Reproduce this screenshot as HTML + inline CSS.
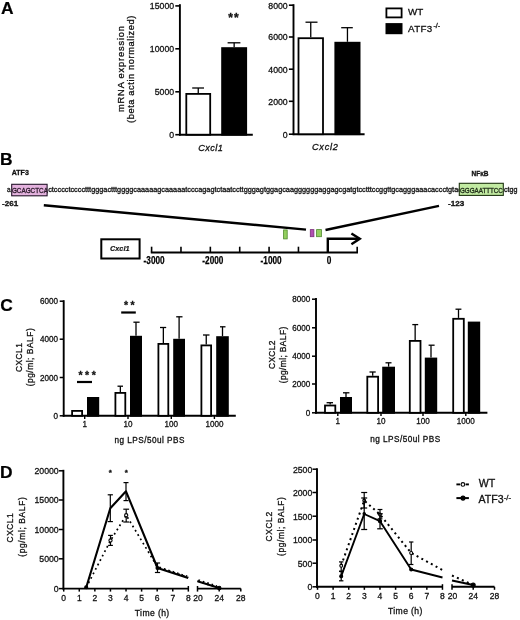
<!DOCTYPE html>
<html lang="en">
<head>
<meta charset="utf-8">
<title>Figure</title>
<style>
html,body{margin:0;padding:0;background:#fff;}
body{width:520px;height:620px;overflow:hidden;}
svg{display:block;font-family:'Liberation Sans', Arial, sans-serif;}
</style>
</head>
<body>
<svg width="520" height="620" viewBox="0 0 520 620">
<rect x="0" y="0" width="520" height="620" fill="#fff"/>
<text x="1.00" y="14.10" font-size="17.4" text-anchor="start" font-weight="bold" font-style="normal" fill="#000" stroke="#000" stroke-width="0.2" >A</text>
<line x1="179.90" y1="4.20" x2="179.90" y2="135.60" stroke="#000" stroke-width="1.9" />
<line x1="179.00" y1="134.70" x2="252.80" y2="134.70" stroke="#000" stroke-width="1.9" />
<line x1="175.30" y1="5.90" x2="179.90" y2="5.90" stroke="#000" stroke-width="1.6" />
<text transform="translate(174.10,9.30) scale(0.93,1)" font-size="9.4" text-anchor="end" font-weight="normal" font-style="normal" fill="#111" stroke="#111" stroke-width="0.3" >15000</text>
<line x1="175.30" y1="48.80" x2="179.90" y2="48.80" stroke="#000" stroke-width="1.6" />
<text transform="translate(174.10,52.20) scale(0.93,1)" font-size="9.4" text-anchor="end" font-weight="normal" font-style="normal" fill="#111" stroke="#111" stroke-width="0.3" >10000</text>
<line x1="175.30" y1="91.80" x2="179.90" y2="91.80" stroke="#000" stroke-width="1.6" />
<text transform="translate(174.10,95.20) scale(0.93,1)" font-size="9.4" text-anchor="end" font-weight="normal" font-style="normal" fill="#111" stroke="#111" stroke-width="0.3" >5000</text>
<line x1="175.30" y1="134.70" x2="179.90" y2="134.70" stroke="#000" stroke-width="1.6" />
<text transform="translate(174.10,138.10) scale(0.93,1)" font-size="9.4" text-anchor="end" font-weight="normal" font-style="normal" fill="#111" stroke="#111" stroke-width="0.3" >0</text>
<line x1="198.25" y1="88.00" x2="198.25" y2="93.00" stroke="#000" stroke-width="1.3" />
<line x1="192.20" y1="88.00" x2="204.00" y2="88.00" stroke="#000" stroke-width="1.3" />
<rect x="186.30" y="93.90" width="23.90" height="40.80" fill="#fff" stroke="#000" stroke-width="1.8"/>
<line x1="234.15" y1="42.80" x2="234.15" y2="47.20" stroke="#000" stroke-width="1.3" />
<line x1="227.60" y1="42.80" x2="240.40" y2="42.80" stroke="#000" stroke-width="1.3" />
<rect x="222.10" y="48.10" width="24.10" height="86.60" fill="#000" stroke="#000" stroke-width="1.8"/>
<text x="228.20" y="22.40" font-size="12" text-anchor="start" font-weight="bold" font-style="normal" fill="#111" stroke="#111" stroke-width="0.3" textLength="10.4" lengthAdjust="spacing">**</text>
<text x="198.20" y="150.60" font-size="9.2" text-anchor="start" font-weight="normal" font-style="italic" fill="#111" stroke="#111" stroke-width="0.3" textLength="24.6" lengthAdjust="spacing">Cxcl1</text>
<text transform="translate(123.60,69.00) rotate(-90)" font-size="9.3" text-anchor="middle" fill="#111" stroke="#111" stroke-width="0.3" textLength="86" lengthAdjust="spacing">mRNA expression</text>
<text transform="translate(134.00,69.30) rotate(-90)" font-size="9.3" text-anchor="middle" fill="#111" stroke="#111" stroke-width="0.3" textLength="107.5" lengthAdjust="spacing">(beta actin normalized)</text>
<line x1="293.50" y1="4.20" x2="293.50" y2="135.10" stroke="#000" stroke-width="1.9" />
<line x1="292.60" y1="134.20" x2="364.60" y2="134.20" stroke="#000" stroke-width="1.9" />
<line x1="288.90" y1="5.20" x2="293.50" y2="5.20" stroke="#000" stroke-width="1.6" />
<text transform="translate(287.70,8.60) scale(0.93,1)" font-size="9.4" text-anchor="end" font-weight="normal" font-style="normal" fill="#111" stroke="#111" stroke-width="0.3" >8000</text>
<line x1="288.90" y1="37.00" x2="293.50" y2="37.00" stroke="#000" stroke-width="1.6" />
<text transform="translate(287.70,40.40) scale(0.93,1)" font-size="9.4" text-anchor="end" font-weight="normal" font-style="normal" fill="#111" stroke="#111" stroke-width="0.3" >6000</text>
<line x1="288.90" y1="69.20" x2="293.50" y2="69.20" stroke="#000" stroke-width="1.6" />
<text transform="translate(287.70,72.60) scale(0.93,1)" font-size="9.4" text-anchor="end" font-weight="normal" font-style="normal" fill="#111" stroke="#111" stroke-width="0.3" >4000</text>
<line x1="288.90" y1="101.30" x2="293.50" y2="101.30" stroke="#000" stroke-width="1.6" />
<text transform="translate(287.70,104.70) scale(0.93,1)" font-size="9.4" text-anchor="end" font-weight="normal" font-style="normal" fill="#111" stroke="#111" stroke-width="0.3" >2000</text>
<line x1="288.90" y1="134.20" x2="293.50" y2="134.20" stroke="#000" stroke-width="1.6" />
<text transform="translate(287.70,137.60) scale(0.93,1)" font-size="9.4" text-anchor="end" font-weight="normal" font-style="normal" fill="#111" stroke="#111" stroke-width="0.3" >0</text>
<line x1="310.75" y1="22.20" x2="310.75" y2="37.30" stroke="#000" stroke-width="1.3" />
<line x1="305.50" y1="22.20" x2="317.50" y2="22.20" stroke="#000" stroke-width="1.3" />
<rect x="298.50" y="38.20" width="24.50" height="96.00" fill="#fff" stroke="#000" stroke-width="1.8"/>
<line x1="347.45" y1="27.70" x2="347.45" y2="41.80" stroke="#000" stroke-width="1.3" />
<line x1="341.20" y1="27.70" x2="352.80" y2="27.70" stroke="#000" stroke-width="1.3" />
<rect x="335.30" y="42.70" width="24.30" height="91.50" fill="#000" stroke="#000" stroke-width="1.8"/>
<text x="311.90" y="149.80" font-size="9.2" text-anchor="start" font-weight="normal" font-style="italic" fill="#111" stroke="#111" stroke-width="0.3" textLength="26" lengthAdjust="spacing">Cxcl2</text>
<rect x="386.40" y="8.40" width="15.20" height="9.00" fill="#fff" stroke="#000" stroke-width="1.8"/>
<rect x="386.40" y="24.00" width="15.20" height="9.30" fill="#000" stroke="#000" stroke-width="1.8"/>
<text x="408.00" y="14.90" font-size="9.8" text-anchor="start" font-weight="normal" font-style="normal" fill="#111" stroke="#111" stroke-width="0.3" >WT</text>
<text x="408.00" y="31.80" font-size="9.8" text-anchor="start" font-weight="normal" font-style="normal" fill="#111" stroke="#111" stroke-width="0.3" textLength="24.2" lengthAdjust="spacing">ATF3</text>
<text x="433.40" y="28.20" font-size="7.2" text-anchor="start" font-weight="normal" font-style="normal" fill="#111" stroke="#111" stroke-width="0.3" >-/-</text>
<text x="-0.10" y="164.80" font-size="17.4" text-anchor="start" font-weight="bold" font-style="normal" fill="#000" stroke="#000" stroke-width="0.2" >B</text>
<text x="11.80" y="175.40" font-size="7.0" text-anchor="start" font-weight="bold" font-style="normal" fill="#111" stroke="#111" stroke-width="0.3" textLength="17" lengthAdjust="spacingAndGlyphs">ATF3</text>
<rect x="11.70" y="184.30" width="35.40" height="11.50" fill="#e4b2de" stroke="#24142a" stroke-width="1.1"/>
<text x="6.90" y="192.20" font-size="6.5" text-anchor="start" font-weight="normal" font-style="normal" fill="#222" stroke="#222" stroke-width="0.3" >a</text>
<text x="11.90" y="193.00" font-size="7.6" text-anchor="start" font-weight="normal" font-style="normal" fill="#2a1a2a" stroke="#2a1a2a" stroke-width="0.35" textLength="36" lengthAdjust="spacingAndGlyphs">GCAGCTCA</text>
<text x="48.20" y="192.20" font-size="6.5" text-anchor="start" font-weight="normal" font-style="normal" fill="#161616" stroke="#161616" stroke-width="0.3" textLength="423" lengthAdjust="spacingAndGlyphs">ctcccctcccctttgggactttggggcaaaaagcaaaaatcccagagtctaatccttgggagtggagcaaggggggaggagcgatgtcctttccggttgcagggaaacaccctgtactcc</text>
<rect x="459.30" y="183.30" width="44.00" height="12.10" fill="#c2eba2" stroke="#1e3410" stroke-width="1.1"/>
<text x="459.90" y="192.50" font-size="7.6" text-anchor="start" font-weight="normal" font-style="normal" fill="#1e2a18" stroke="#1e2a18" stroke-width="0.35" textLength="43" lengthAdjust="spacingAndGlyphs">GGGAATTTCC</text>
<text x="504.00" y="192.20" font-size="6.5" text-anchor="start" font-weight="normal" font-style="normal" fill="#161616" stroke="#161616" stroke-width="0.3" textLength="13.5" lengthAdjust="spacingAndGlyphs">ctgg</text>
<text x="471.50" y="175.70" font-size="7.0" text-anchor="start" font-weight="bold" font-style="normal" fill="#111" stroke="#111" stroke-width="0.3" textLength="17" lengthAdjust="spacingAndGlyphs">NF&#954;B</text>
<text x="2.00" y="206.30" font-size="7.2" text-anchor="start" font-weight="bold" font-style="normal" fill="#111" stroke="#111" stroke-width="0.3" textLength="16.2" lengthAdjust="spacingAndGlyphs">-261</text>
<text x="448.00" y="206.10" font-size="7.2" text-anchor="start" font-weight="bold" font-style="normal" fill="#111" stroke="#111" stroke-width="0.3" textLength="16.2" lengthAdjust="spacingAndGlyphs">-123</text>
<line x1="43.80" y1="205.20" x2="306.00" y2="229.60" stroke="#000" stroke-width="2.4" />
<line x1="325.50" y1="230.00" x2="439.00" y2="205.80" stroke="#000" stroke-width="2.4" />
<rect x="101.30" y="239.30" width="38.30" height="19.20" fill="#fff" stroke="#000" stroke-width="2.0"/>
<text x="119.80" y="251.40" font-size="7.3" text-anchor="middle" font-weight="bold" font-style="italic" fill="#111" stroke="#111" stroke-width="0.15" >Cxcl1</text>
<line x1="150.80" y1="252.50" x2="357.99" y2="252.50" stroke="#000" stroke-width="1.8" />
<line x1="151.60" y1="246.70" x2="151.60" y2="252.50" stroke="#000" stroke-width="1.6" />
<line x1="180.97" y1="246.70" x2="180.97" y2="252.50" stroke="#000" stroke-width="1.6" />
<line x1="210.34" y1="246.70" x2="210.34" y2="252.50" stroke="#000" stroke-width="1.6" />
<line x1="239.71" y1="246.70" x2="239.71" y2="252.50" stroke="#000" stroke-width="1.6" />
<line x1="269.08" y1="246.70" x2="269.08" y2="252.50" stroke="#000" stroke-width="1.6" />
<line x1="298.45" y1="246.70" x2="298.45" y2="252.50" stroke="#000" stroke-width="1.6" />
<line x1="327.82" y1="246.70" x2="327.82" y2="252.50" stroke="#000" stroke-width="1.6" />
<line x1="357.19" y1="246.70" x2="357.19" y2="252.50" stroke="#000" stroke-width="1.6" />
<text x="143.60" y="263.9" font-size="10.5" font-weight="bold" fill="#000" stroke="#000" stroke-width="0.25" textLength="21" lengthAdjust="spacingAndGlyphs">-3000</text>
<text x="202.34" y="263.9" font-size="10.5" font-weight="bold" fill="#000" stroke="#000" stroke-width="0.25" textLength="21" lengthAdjust="spacingAndGlyphs">-2000</text>
<text x="260.58" y="263.9" font-size="10.5" font-weight="bold" fill="#000" stroke="#000" stroke-width="0.25" textLength="21" lengthAdjust="spacingAndGlyphs">-1000</text>
<text x="326.72" y="263.9" font-size="10.5" font-weight="bold" fill="#000" stroke="#000" stroke-width="0.25" textLength="4.6" lengthAdjust="spacingAndGlyphs">0</text>
<rect x="283.60" y="229.90" width="3.60" height="9.00" fill="#93cf5e" stroke="#4f8a2e" stroke-width="0.8"/>
<rect x="310.30" y="229.60" width="3.60" height="7.10" fill="#b04fb0" stroke="#7a2f7a" stroke-width="0.8"/>
<rect x="316.60" y="229.60" width="4.80" height="7.10" fill="#93cf5e" stroke="#4f8a2e" stroke-width="0.8"/>
<path d="M327.8 252.5 V238.8 H359.4" fill="none" stroke="#000" stroke-width="2.4"/>
<path d="M351.4 233.4 L359.8 238.8 L351.4 244.2" fill="none" stroke="#000" stroke-width="2.4" stroke-linejoin="miter"/>
<text x="0.30" y="311.00" font-size="17.4" text-anchor="start" font-weight="bold" font-style="normal" fill="#000" stroke="#000" stroke-width="0.2" >C</text>
<line x1="63.70" y1="300.20" x2="63.70" y2="416.70" stroke="#000" stroke-width="1.9" />
<line x1="62.80" y1="415.80" x2="235.80" y2="415.80" stroke="#000" stroke-width="1.9" />
<line x1="59.70" y1="301.20" x2="63.70" y2="301.20" stroke="#000" stroke-width="1.5" />
<text transform="translate(57.90,304.30) scale(0.93,1)" font-size="8.7" text-anchor="end" font-weight="normal" font-style="normal" fill="#111" stroke="#111" stroke-width="0.3" >6000</text>
<line x1="59.70" y1="339.20" x2="63.70" y2="339.20" stroke="#000" stroke-width="1.5" />
<text transform="translate(57.90,342.30) scale(0.93,1)" font-size="8.7" text-anchor="end" font-weight="normal" font-style="normal" fill="#111" stroke="#111" stroke-width="0.3" >4000</text>
<line x1="59.70" y1="377.50" x2="63.70" y2="377.50" stroke="#000" stroke-width="1.5" />
<text transform="translate(57.90,380.60) scale(0.93,1)" font-size="8.7" text-anchor="end" font-weight="normal" font-style="normal" fill="#111" stroke="#111" stroke-width="0.3" >2000</text>
<line x1="59.70" y1="415.80" x2="63.70" y2="415.80" stroke="#000" stroke-width="1.5" />
<text transform="translate(57.90,418.90) scale(0.93,1)" font-size="8.7" text-anchor="end" font-weight="normal" font-style="normal" fill="#111" stroke="#111" stroke-width="0.3" >0</text>
<line x1="84.70" y1="415.80" x2="84.70" y2="419.00" stroke="#000" stroke-width="1.4" />
<text transform="translate(84.70,426.90) scale(0.93,1)" font-size="8.7" text-anchor="middle" font-weight="normal" font-style="normal" fill="#111" stroke="#111" stroke-width="0.3" >1</text>
<line x1="128.00" y1="415.80" x2="128.00" y2="419.00" stroke="#000" stroke-width="1.4" />
<text transform="translate(128.00,426.90) scale(0.93,1)" font-size="8.7" text-anchor="middle" font-weight="normal" font-style="normal" fill="#111" stroke="#111" stroke-width="0.3" >10</text>
<line x1="171.30" y1="415.80" x2="171.30" y2="419.00" stroke="#000" stroke-width="1.4" />
<text transform="translate(171.30,426.90) scale(0.93,1)" font-size="8.7" text-anchor="middle" font-weight="normal" font-style="normal" fill="#111" stroke="#111" stroke-width="0.3" >100</text>
<line x1="214.40" y1="415.80" x2="214.40" y2="419.00" stroke="#000" stroke-width="1.4" />
<text transform="translate(214.40,426.90) scale(0.93,1)" font-size="8.7" text-anchor="middle" font-weight="normal" font-style="normal" fill="#111" stroke="#111" stroke-width="0.3" >1000</text>
<rect x="72.10" y="410.90" width="10.00" height="4.90" fill="#fff" stroke="#000" stroke-width="1.8"/>
<rect x="87.90" y="397.90" width="10.40" height="17.90" fill="#000" stroke="#000" stroke-width="1.8"/>
<line x1="120.35" y1="386.20" x2="120.35" y2="392.00" stroke="#000" stroke-width="1.3" />
<line x1="117.50" y1="386.20" x2="123.00" y2="386.20" stroke="#000" stroke-width="1.3" />
<rect x="115.40" y="392.90" width="9.90" height="22.90" fill="#fff" stroke="#000" stroke-width="1.8"/>
<line x1="136.00" y1="322.20" x2="136.00" y2="335.80" stroke="#000" stroke-width="1.3" />
<line x1="133.40" y1="322.20" x2="139.60" y2="322.20" stroke="#000" stroke-width="1.3" />
<rect x="130.90" y="336.70" width="10.20" height="79.10" fill="#000" stroke="#000" stroke-width="1.8"/>
<line x1="163.35" y1="327.50" x2="163.35" y2="343.00" stroke="#000" stroke-width="1.3" />
<line x1="160.00" y1="327.50" x2="166.20" y2="327.50" stroke="#000" stroke-width="1.3" />
<rect x="158.40" y="343.90" width="9.90" height="71.90" fill="#fff" stroke="#000" stroke-width="1.8"/>
<line x1="179.10" y1="316.80" x2="179.10" y2="338.80" stroke="#000" stroke-width="1.3" />
<line x1="176.20" y1="316.80" x2="182.50" y2="316.80" stroke="#000" stroke-width="1.3" />
<rect x="174.10" y="339.70" width="10.00" height="76.10" fill="#000" stroke="#000" stroke-width="1.8"/>
<line x1="206.25" y1="335.00" x2="206.25" y2="344.50" stroke="#000" stroke-width="1.3" />
<line x1="203.00" y1="335.00" x2="209.50" y2="335.00" stroke="#000" stroke-width="1.3" />
<rect x="201.40" y="345.40" width="9.70" height="70.40" fill="#fff" stroke="#000" stroke-width="1.8"/>
<line x1="222.50" y1="326.80" x2="222.50" y2="336.20" stroke="#000" stroke-width="1.3" />
<line x1="220.00" y1="326.80" x2="225.50" y2="326.80" stroke="#000" stroke-width="1.3" />
<rect x="217.10" y="337.10" width="10.80" height="78.70" fill="#000" stroke="#000" stroke-width="1.8"/>
<text x="78.40" y="378.80" font-size="10.5" text-anchor="start" font-weight="bold" font-style="normal" fill="#111" stroke="#111" stroke-width="0.3" textLength="17.4" lengthAdjust="spacing">***</text>
<line x1="77.00" y1="382.00" x2="92.00" y2="382.00" stroke="#000" stroke-width="2.2" />
<text x="124.00" y="309.40" font-size="10.5" text-anchor="start" font-weight="bold" font-style="normal" fill="#111" stroke="#111" stroke-width="0.3" textLength="10.5" lengthAdjust="spacing">**</text>
<line x1="121.20" y1="312.50" x2="135.80" y2="312.50" stroke="#000" stroke-width="2.2" />
<text x="114.40" y="442.70" font-size="8.2" text-anchor="start" font-weight="normal" font-style="normal" fill="#111" stroke="#111" stroke-width="0.3" textLength="70" lengthAdjust="spacing">ng LPS/50ul PBS</text>
<text transform="translate(21.60,357.60) rotate(-90)" font-size="8.4" text-anchor="middle" fill="#111" stroke="#111" stroke-width="0.3" textLength="29" lengthAdjust="spacing">CXCL1</text>
<text transform="translate(33.40,357.30) rotate(-90)" font-size="8.4" text-anchor="middle" fill="#111" stroke="#111" stroke-width="0.3" textLength="58" lengthAdjust="spacing">(pg/ml; BALF)</text>
<line x1="316.00" y1="298.00" x2="316.00" y2="413.70" stroke="#000" stroke-width="1.9" />
<line x1="315.10" y1="412.80" x2="487.40" y2="412.80" stroke="#000" stroke-width="1.9" />
<line x1="312.00" y1="299.20" x2="316.00" y2="299.20" stroke="#000" stroke-width="1.5" />
<text transform="translate(310.20,302.30) scale(0.93,1)" font-size="8.7" text-anchor="end" font-weight="normal" font-style="normal" fill="#111" stroke="#111" stroke-width="0.3" >8000</text>
<line x1="312.00" y1="327.80" x2="316.00" y2="327.80" stroke="#000" stroke-width="1.5" />
<text transform="translate(310.20,330.90) scale(0.93,1)" font-size="8.7" text-anchor="end" font-weight="normal" font-style="normal" fill="#111" stroke="#111" stroke-width="0.3" >6000</text>
<line x1="312.00" y1="356.20" x2="316.00" y2="356.20" stroke="#000" stroke-width="1.5" />
<text transform="translate(310.20,359.30) scale(0.93,1)" font-size="8.7" text-anchor="end" font-weight="normal" font-style="normal" fill="#111" stroke="#111" stroke-width="0.3" >4000</text>
<line x1="312.00" y1="384.00" x2="316.00" y2="384.00" stroke="#000" stroke-width="1.5" />
<text transform="translate(310.20,387.10) scale(0.93,1)" font-size="8.7" text-anchor="end" font-weight="normal" font-style="normal" fill="#111" stroke="#111" stroke-width="0.3" >2000</text>
<line x1="312.00" y1="412.80" x2="316.00" y2="412.80" stroke="#000" stroke-width="1.5" />
<text transform="translate(310.20,415.90) scale(0.93,1)" font-size="8.7" text-anchor="end" font-weight="normal" font-style="normal" fill="#111" stroke="#111" stroke-width="0.3" >0</text>
<line x1="337.80" y1="412.80" x2="337.80" y2="416.00" stroke="#000" stroke-width="1.4" />
<text transform="translate(337.80,424.30) scale(0.93,1)" font-size="8.7" text-anchor="middle" font-weight="normal" font-style="normal" fill="#111" stroke="#111" stroke-width="0.3" >1</text>
<line x1="381.00" y1="412.80" x2="381.00" y2="416.00" stroke="#000" stroke-width="1.4" />
<text transform="translate(381.00,424.30) scale(0.93,1)" font-size="8.7" text-anchor="middle" font-weight="normal" font-style="normal" fill="#111" stroke="#111" stroke-width="0.3" >10</text>
<line x1="423.00" y1="412.80" x2="423.00" y2="416.00" stroke="#000" stroke-width="1.4" />
<text transform="translate(423.00,424.30) scale(0.93,1)" font-size="8.7" text-anchor="middle" font-weight="normal" font-style="normal" fill="#111" stroke="#111" stroke-width="0.3" >100</text>
<line x1="465.80" y1="412.80" x2="465.80" y2="416.00" stroke="#000" stroke-width="1.4" />
<text transform="translate(465.80,424.30) scale(0.93,1)" font-size="8.7" text-anchor="middle" font-weight="normal" font-style="normal" fill="#111" stroke="#111" stroke-width="0.3" >1000</text>
<line x1="330.15" y1="402.70" x2="330.15" y2="404.60" stroke="#000" stroke-width="1.3" />
<line x1="326.60" y1="402.70" x2="333.00" y2="402.70" stroke="#000" stroke-width="1.3" />
<rect x="325.00" y="405.50" width="10.30" height="7.30" fill="#fff" stroke="#000" stroke-width="1.8"/>
<line x1="346.00" y1="392.80" x2="346.00" y2="397.00" stroke="#000" stroke-width="1.3" />
<line x1="343.00" y1="392.80" x2="349.40" y2="392.80" stroke="#000" stroke-width="1.3" />
<rect x="340.90" y="397.90" width="10.20" height="14.90" fill="#000" stroke="#000" stroke-width="1.8"/>
<line x1="372.70" y1="372.00" x2="372.70" y2="375.80" stroke="#000" stroke-width="1.3" />
<line x1="369.50" y1="372.00" x2="375.70" y2="372.00" stroke="#000" stroke-width="1.3" />
<rect x="367.30" y="376.70" width="10.80" height="36.10" fill="#fff" stroke="#000" stroke-width="1.8"/>
<line x1="388.60" y1="362.80" x2="388.60" y2="366.70" stroke="#000" stroke-width="1.3" />
<line x1="385.50" y1="362.80" x2="391.50" y2="362.80" stroke="#000" stroke-width="1.3" />
<rect x="383.10" y="367.60" width="11.00" height="45.20" fill="#000" stroke="#000" stroke-width="1.8"/>
<line x1="415.15" y1="324.60" x2="415.15" y2="340.00" stroke="#000" stroke-width="1.3" />
<line x1="412.30" y1="324.60" x2="418.20" y2="324.60" stroke="#000" stroke-width="1.3" />
<rect x="409.80" y="340.90" width="10.70" height="71.90" fill="#fff" stroke="#000" stroke-width="1.8"/>
<line x1="431.00" y1="345.20" x2="431.00" y2="357.60" stroke="#000" stroke-width="1.3" />
<line x1="428.60" y1="345.20" x2="434.60" y2="345.20" stroke="#000" stroke-width="1.3" />
<rect x="425.70" y="358.50" width="10.60" height="54.30" fill="#000" stroke="#000" stroke-width="1.8"/>
<line x1="458.50" y1="309.20" x2="458.50" y2="317.90" stroke="#000" stroke-width="1.3" />
<line x1="455.50" y1="309.20" x2="461.40" y2="309.20" stroke="#000" stroke-width="1.3" />
<rect x="453.20" y="318.80" width="10.60" height="94.00" fill="#fff" stroke="#000" stroke-width="1.8"/>
<rect x="468.70" y="322.50" width="10.60" height="90.30" fill="#000" stroke="#000" stroke-width="1.8"/>
<text x="370.20" y="442.20" font-size="8.2" text-anchor="start" font-weight="normal" font-style="normal" fill="#111" stroke="#111" stroke-width="0.3" textLength="70" lengthAdjust="spacing">ng LPS/50ul PBS</text>
<text transform="translate(274.60,354.80) rotate(-90)" font-size="8.4" text-anchor="middle" fill="#111" stroke="#111" stroke-width="0.3" textLength="28.4" lengthAdjust="spacing">CXCL2</text>
<text transform="translate(286.20,355.00) rotate(-90)" font-size="8.4" text-anchor="middle" fill="#111" stroke="#111" stroke-width="0.3" textLength="56.5" lengthAdjust="spacing">(pg/ml; BALF)</text>
<text x="-0.10" y="478.00" font-size="17.4" text-anchor="start" font-weight="bold" font-style="normal" fill="#000" stroke="#000" stroke-width="0.2" >D</text>
<line x1="63.40" y1="469.80" x2="63.40" y2="589.50" stroke="#000" stroke-width="1.9" />
<line x1="58.90" y1="470.80" x2="63.40" y2="470.80" stroke="#000" stroke-width="1.5" />
<text transform="translate(58.70,474.20) scale(0.92,1)" font-size="9.5" text-anchor="end" font-weight="normal" font-style="normal" fill="#111" stroke="#111" stroke-width="0.3" >20000</text>
<line x1="58.90" y1="500.00" x2="63.40" y2="500.00" stroke="#000" stroke-width="1.5" />
<text transform="translate(58.70,503.40) scale(0.92,1)" font-size="9.5" text-anchor="end" font-weight="normal" font-style="normal" fill="#111" stroke="#111" stroke-width="0.3" >15000</text>
<line x1="58.90" y1="529.50" x2="63.40" y2="529.50" stroke="#000" stroke-width="1.5" />
<text transform="translate(58.70,532.90) scale(0.92,1)" font-size="9.5" text-anchor="end" font-weight="normal" font-style="normal" fill="#111" stroke="#111" stroke-width="0.3" >10000</text>
<line x1="58.90" y1="558.80" x2="63.40" y2="558.80" stroke="#000" stroke-width="1.5" />
<text transform="translate(58.70,562.20) scale(0.92,1)" font-size="9.5" text-anchor="end" font-weight="normal" font-style="normal" fill="#111" stroke="#111" stroke-width="0.3" >5000</text>
<line x1="58.90" y1="588.60" x2="63.40" y2="588.60" stroke="#000" stroke-width="1.5" />
<text transform="translate(58.70,592.00) scale(0.92,1)" font-size="9.5" text-anchor="end" font-weight="normal" font-style="normal" fill="#111" stroke="#111" stroke-width="0.3" >0</text>
<line x1="62.50" y1="588.60" x2="188.34" y2="588.60" stroke="#000" stroke-width="1.9" />
<line x1="63.70" y1="588.60" x2="63.70" y2="591.60" stroke="#000" stroke-width="1.5" />
<text transform="translate(63.70,600.70) scale(0.92,1)" font-size="9.3" text-anchor="middle" font-weight="normal" font-style="normal" fill="#111" stroke="#111" stroke-width="0.3" >0</text>
<line x1="79.28" y1="588.60" x2="79.28" y2="591.60" stroke="#000" stroke-width="1.5" />
<text transform="translate(79.28,600.70) scale(0.92,1)" font-size="9.3" text-anchor="middle" font-weight="normal" font-style="normal" fill="#111" stroke="#111" stroke-width="0.3" >1</text>
<line x1="94.86" y1="588.60" x2="94.86" y2="591.60" stroke="#000" stroke-width="1.5" />
<text transform="translate(94.86,600.70) scale(0.92,1)" font-size="9.3" text-anchor="middle" font-weight="normal" font-style="normal" fill="#111" stroke="#111" stroke-width="0.3" >2</text>
<line x1="110.44" y1="588.60" x2="110.44" y2="591.60" stroke="#000" stroke-width="1.5" />
<text transform="translate(110.44,600.70) scale(0.92,1)" font-size="9.3" text-anchor="middle" font-weight="normal" font-style="normal" fill="#111" stroke="#111" stroke-width="0.3" >3</text>
<line x1="126.02" y1="588.60" x2="126.02" y2="591.60" stroke="#000" stroke-width="1.5" />
<text transform="translate(126.02,600.70) scale(0.92,1)" font-size="9.3" text-anchor="middle" font-weight="normal" font-style="normal" fill="#111" stroke="#111" stroke-width="0.3" >4</text>
<line x1="141.60" y1="588.60" x2="141.60" y2="591.60" stroke="#000" stroke-width="1.5" />
<text transform="translate(141.60,600.70) scale(0.92,1)" font-size="9.3" text-anchor="middle" font-weight="normal" font-style="normal" fill="#111" stroke="#111" stroke-width="0.3" >5</text>
<line x1="157.18" y1="588.60" x2="157.18" y2="591.60" stroke="#000" stroke-width="1.5" />
<text transform="translate(157.18,600.70) scale(0.92,1)" font-size="9.3" text-anchor="middle" font-weight="normal" font-style="normal" fill="#111" stroke="#111" stroke-width="0.3" >6</text>
<line x1="172.76" y1="588.60" x2="172.76" y2="591.60" stroke="#000" stroke-width="1.5" />
<text transform="translate(172.76,600.70) scale(0.92,1)" font-size="9.3" text-anchor="middle" font-weight="normal" font-style="normal" fill="#111" stroke="#111" stroke-width="0.3" >7</text>
<line x1="188.34" y1="586.00" x2="188.34" y2="591.60" stroke="#000" stroke-width="1.5" />
<text transform="translate(188.34,600.70) scale(0.92,1)" font-size="9.3" text-anchor="middle" font-weight="normal" font-style="normal" fill="#111" stroke="#111" stroke-width="0.3" >8</text>
<line x1="197.50" y1="588.60" x2="240.80" y2="588.60" stroke="#000" stroke-width="1.9" />
<line x1="197.50" y1="586.00" x2="197.50" y2="591.60" stroke="#000" stroke-width="1.5" />
<text transform="translate(198.10,600.70) scale(0.92,1)" font-size="9.3" text-anchor="middle" font-weight="normal" font-style="normal" fill="#111" stroke="#111" stroke-width="0.3" >20</text>
<line x1="219.20" y1="588.60" x2="219.20" y2="591.60" stroke="#000" stroke-width="1.5" />
<text transform="translate(219.20,600.70) scale(0.92,1)" font-size="9.3" text-anchor="middle" font-weight="normal" font-style="normal" fill="#111" stroke="#111" stroke-width="0.3" >24</text>
<line x1="240.80" y1="588.60" x2="240.80" y2="591.60" stroke="#000" stroke-width="1.5" />
<text transform="translate(240.80,600.70) scale(0.92,1)" font-size="9.3" text-anchor="middle" font-weight="normal" font-style="normal" fill="#111" stroke="#111" stroke-width="0.3" >28</text>
<text x="134.80" y="616.40" font-size="8.6" text-anchor="start" font-weight="normal" font-style="normal" fill="#111" stroke="#111" stroke-width="0.3" textLength="34.4" lengthAdjust="spacing">Time (h)</text>
<polyline points="86.20,587.50 110.50,540.50 126.20,515.20 157.50,567.00 188.20,577.50" fill="none" stroke="#000" stroke-width="1.7" stroke-linejoin="round" stroke-dasharray="1.8 3.2"/>
<polyline points="197.50,581.00 219.20,588.00" fill="none" stroke="#000" stroke-width="1.7" stroke-linejoin="round" stroke-dasharray="1.8 3.2"/>
<line x1="110.50" y1="535.40" x2="110.50" y2="545.40" stroke="#000" stroke-width="1.2" />
<line x1="108.10" y1="535.40" x2="112.90" y2="535.40" stroke="#000" stroke-width="1.2" />
<line x1="108.10" y1="545.40" x2="112.90" y2="545.40" stroke="#000" stroke-width="1.2" />
<line x1="126.20" y1="509.20" x2="126.20" y2="522.00" stroke="#000" stroke-width="1.2" />
<line x1="123.30" y1="509.20" x2="129.10" y2="509.20" stroke="#000" stroke-width="1.2" />
<line x1="123.30" y1="522.00" x2="129.10" y2="522.00" stroke="#000" stroke-width="1.2" />
<circle cx="110.50" cy="540.50" r="1.6" fill="#fff" stroke="#000" stroke-width="1.1"/>
<circle cx="126.20" cy="515.20" r="1.6" fill="#fff" stroke="#000" stroke-width="1.1"/>
<polyline points="86.20,587.50 110.30,508.30 126.00,491.30 157.50,568.00 188.20,578.00" fill="none" stroke="#000" stroke-width="2.1" stroke-linejoin="round"/>
<polyline points="197.50,581.20 219.20,588.00" fill="none" stroke="#000" stroke-width="2.0" stroke-linejoin="round"/>
<line x1="110.30" y1="494.80" x2="110.30" y2="521.60" stroke="#000" stroke-width="1.2" />
<line x1="107.70" y1="494.80" x2="112.90" y2="494.80" stroke="#000" stroke-width="1.2" />
<line x1="107.70" y1="521.60" x2="112.90" y2="521.60" stroke="#000" stroke-width="1.2" />
<line x1="126.00" y1="482.60" x2="126.00" y2="500.60" stroke="#000" stroke-width="1.2" />
<line x1="123.50" y1="482.60" x2="128.50" y2="482.60" stroke="#000" stroke-width="1.2" />
<line x1="123.50" y1="500.60" x2="128.50" y2="500.60" stroke="#000" stroke-width="1.2" />
<line x1="157.50" y1="563.00" x2="157.50" y2="572.50" stroke="#000" stroke-width="1.2" />
<line x1="154.90" y1="563.00" x2="160.10" y2="563.00" stroke="#000" stroke-width="1.2" />
<line x1="154.90" y1="572.50" x2="160.10" y2="572.50" stroke="#000" stroke-width="1.2" />
<polyline points="159.50,567.30 188.20,576.60" fill="none" stroke="#000" stroke-width="1.5" stroke-linejoin="round" stroke-dasharray="1.6 3.0"/>
<polyline points="198.50,579.90 217.00,586.00" fill="none" stroke="#000" stroke-width="1.5" stroke-linejoin="round" stroke-dasharray="1.6 3.0"/>
<circle cx="86.20" cy="587.30" r="1.5" fill="#000" stroke="#000" stroke-width="1.1"/>
<circle cx="157.50" cy="568.00" r="1.5" fill="#000" stroke="#000" stroke-width="1.1"/>
<circle cx="219.20" cy="588.00" r="1.7" fill="#000" stroke="#000" stroke-width="1.1"/>
<text x="110.30" y="474.80" font-size="8" text-anchor="middle" font-weight="bold" font-style="normal" fill="#111" stroke="#111" stroke-width="0.3" >*</text>
<text x="126.40" y="474.80" font-size="8" text-anchor="middle" font-weight="bold" font-style="normal" fill="#111" stroke="#111" stroke-width="0.3" >*</text>
<text transform="translate(13.00,527.90) rotate(-90)" font-size="8.4" text-anchor="middle" fill="#111" stroke="#111" stroke-width="0.3" textLength="29" lengthAdjust="spacing">CXCL1</text>
<text transform="translate(24.60,527.00) rotate(-90)" font-size="8.4" text-anchor="middle" fill="#111" stroke="#111" stroke-width="0.3" textLength="59.5" lengthAdjust="spacing">(pg/ml; BALF)</text>
<line x1="317.00" y1="468.20" x2="317.00" y2="587.70" stroke="#000" stroke-width="1.9" />
<line x1="312.50" y1="469.20" x2="317.00" y2="469.20" stroke="#000" stroke-width="1.5" />
<text transform="translate(312.30,472.60) scale(0.92,1)" font-size="9.5" text-anchor="end" font-weight="normal" font-style="normal" fill="#111" stroke="#111" stroke-width="0.3" >2500</text>
<line x1="312.50" y1="492.50" x2="317.00" y2="492.50" stroke="#000" stroke-width="1.5" />
<text transform="translate(312.30,495.90) scale(0.92,1)" font-size="9.5" text-anchor="end" font-weight="normal" font-style="normal" fill="#111" stroke="#111" stroke-width="0.3" >2000</text>
<line x1="312.50" y1="516.20" x2="317.00" y2="516.20" stroke="#000" stroke-width="1.5" />
<text transform="translate(312.30,519.60) scale(0.92,1)" font-size="9.5" text-anchor="end" font-weight="normal" font-style="normal" fill="#111" stroke="#111" stroke-width="0.3" >1500</text>
<line x1="312.50" y1="540.00" x2="317.00" y2="540.00" stroke="#000" stroke-width="1.5" />
<text transform="translate(312.30,543.40) scale(0.92,1)" font-size="9.5" text-anchor="end" font-weight="normal" font-style="normal" fill="#111" stroke="#111" stroke-width="0.3" >1000</text>
<line x1="312.50" y1="563.20" x2="317.00" y2="563.20" stroke="#000" stroke-width="1.5" />
<text transform="translate(312.30,566.60) scale(0.92,1)" font-size="9.5" text-anchor="end" font-weight="normal" font-style="normal" fill="#111" stroke="#111" stroke-width="0.3" >500</text>
<line x1="312.50" y1="586.80" x2="317.00" y2="586.80" stroke="#000" stroke-width="1.5" />
<text transform="translate(312.30,590.20) scale(0.92,1)" font-size="9.5" text-anchor="end" font-weight="normal" font-style="normal" fill="#111" stroke="#111" stroke-width="0.3" >0</text>
<line x1="316.10" y1="586.80" x2="442.46" y2="586.80" stroke="#000" stroke-width="1.9" />
<line x1="317.50" y1="586.80" x2="317.50" y2="589.80" stroke="#000" stroke-width="1.5" />
<text transform="translate(317.50,598.90) scale(0.92,1)" font-size="9.3" text-anchor="middle" font-weight="normal" font-style="normal" fill="#111" stroke="#111" stroke-width="0.3" >0</text>
<line x1="333.12" y1="586.80" x2="333.12" y2="589.80" stroke="#000" stroke-width="1.5" />
<text transform="translate(333.12,598.90) scale(0.92,1)" font-size="9.3" text-anchor="middle" font-weight="normal" font-style="normal" fill="#111" stroke="#111" stroke-width="0.3" >1</text>
<line x1="348.74" y1="586.80" x2="348.74" y2="589.80" stroke="#000" stroke-width="1.5" />
<text transform="translate(348.74,598.90) scale(0.92,1)" font-size="9.3" text-anchor="middle" font-weight="normal" font-style="normal" fill="#111" stroke="#111" stroke-width="0.3" >2</text>
<line x1="364.36" y1="586.80" x2="364.36" y2="589.80" stroke="#000" stroke-width="1.5" />
<text transform="translate(364.36,598.90) scale(0.92,1)" font-size="9.3" text-anchor="middle" font-weight="normal" font-style="normal" fill="#111" stroke="#111" stroke-width="0.3" >3</text>
<line x1="379.98" y1="586.80" x2="379.98" y2="589.80" stroke="#000" stroke-width="1.5" />
<text transform="translate(379.98,598.90) scale(0.92,1)" font-size="9.3" text-anchor="middle" font-weight="normal" font-style="normal" fill="#111" stroke="#111" stroke-width="0.3" >4</text>
<line x1="395.60" y1="586.80" x2="395.60" y2="589.80" stroke="#000" stroke-width="1.5" />
<text transform="translate(395.60,598.90) scale(0.92,1)" font-size="9.3" text-anchor="middle" font-weight="normal" font-style="normal" fill="#111" stroke="#111" stroke-width="0.3" >5</text>
<line x1="411.22" y1="586.80" x2="411.22" y2="589.80" stroke="#000" stroke-width="1.5" />
<text transform="translate(411.22,598.90) scale(0.92,1)" font-size="9.3" text-anchor="middle" font-weight="normal" font-style="normal" fill="#111" stroke="#111" stroke-width="0.3" >6</text>
<line x1="426.84" y1="586.80" x2="426.84" y2="589.80" stroke="#000" stroke-width="1.5" />
<text transform="translate(426.84,598.90) scale(0.92,1)" font-size="9.3" text-anchor="middle" font-weight="normal" font-style="normal" fill="#111" stroke="#111" stroke-width="0.3" >7</text>
<line x1="442.46" y1="584.20" x2="442.46" y2="589.80" stroke="#000" stroke-width="1.5" />
<text transform="translate(442.46,598.90) scale(0.92,1)" font-size="9.3" text-anchor="middle" font-weight="normal" font-style="normal" fill="#111" stroke="#111" stroke-width="0.3" >8</text>
<line x1="452.00" y1="586.80" x2="494.50" y2="586.80" stroke="#000" stroke-width="1.9" />
<line x1="452.00" y1="584.20" x2="452.00" y2="589.80" stroke="#000" stroke-width="1.5" />
<text transform="translate(452.60,598.90) scale(0.92,1)" font-size="9.3" text-anchor="middle" font-weight="normal" font-style="normal" fill="#111" stroke="#111" stroke-width="0.3" >20</text>
<line x1="473.20" y1="586.80" x2="473.20" y2="589.80" stroke="#000" stroke-width="1.5" />
<text transform="translate(473.20,598.90) scale(0.92,1)" font-size="9.3" text-anchor="middle" font-weight="normal" font-style="normal" fill="#111" stroke="#111" stroke-width="0.3" >24</text>
<line x1="494.50" y1="586.80" x2="494.50" y2="589.80" stroke="#000" stroke-width="1.5" />
<text transform="translate(494.50,598.90) scale(0.92,1)" font-size="9.3" text-anchor="middle" font-weight="normal" font-style="normal" fill="#111" stroke="#111" stroke-width="0.3" >28</text>
<text x="388.00" y="614.40" font-size="8.6" text-anchor="start" font-weight="normal" font-style="normal" fill="#111" stroke="#111" stroke-width="0.3" textLength="34.4" lengthAdjust="spacing">Time (h)</text>
<polyline points="341.20,565.50 364.20,500.50 380.00,514.50 411.20,553.00 442.50,570.00" fill="none" stroke="#000" stroke-width="2.0" stroke-linejoin="round" stroke-dasharray="2 3.4"/>
<polyline points="452.00,575.50 473.20,585.00" fill="none" stroke="#000" stroke-width="2.0" stroke-linejoin="round" stroke-dasharray="2 3.4"/>
<line x1="341.20" y1="561.90" x2="341.20" y2="571.50" stroke="#000" stroke-width="1.2" />
<line x1="339.00" y1="561.90" x2="343.40" y2="561.90" stroke="#000" stroke-width="1.2" />
<line x1="339.00" y1="571.50" x2="343.40" y2="571.50" stroke="#000" stroke-width="1.2" />
<line x1="364.20" y1="492.50" x2="364.20" y2="508.00" stroke="#000" stroke-width="1.2" />
<line x1="361.20" y1="492.50" x2="367.20" y2="492.50" stroke="#000" stroke-width="1.2" />
<line x1="361.20" y1="508.00" x2="367.20" y2="508.00" stroke="#000" stroke-width="1.2" />
<line x1="380.00" y1="509.50" x2="380.00" y2="518.80" stroke="#000" stroke-width="1.2" />
<line x1="377.60" y1="509.50" x2="382.40" y2="509.50" stroke="#000" stroke-width="1.2" />
<line x1="377.60" y1="518.80" x2="382.40" y2="518.80" stroke="#000" stroke-width="1.2" />
<line x1="411.20" y1="542.00" x2="411.20" y2="564.50" stroke="#000" stroke-width="1.2" />
<line x1="409.00" y1="542.00" x2="413.40" y2="542.00" stroke="#000" stroke-width="1.2" />
<line x1="409.00" y1="564.50" x2="413.40" y2="564.50" stroke="#000" stroke-width="1.2" />
<circle cx="341.20" cy="565.80" r="1.4" fill="#fff" stroke="#000" stroke-width="1.1"/>
<circle cx="364.20" cy="500.50" r="1.4" fill="#fff" stroke="#000" stroke-width="1.1"/>
<circle cx="380.00" cy="514.50" r="1.4" fill="#fff" stroke="#000" stroke-width="1.1"/>
<circle cx="411.20" cy="553.00" r="1.5" fill="#fff" stroke="#000" stroke-width="1.1"/>
<polyline points="341.20,576.20 364.20,514.00 380.00,521.20 411.20,569.50 442.50,577.50" fill="none" stroke="#000" stroke-width="1.9" stroke-linejoin="round"/>
<polyline points="452.00,580.50 473.20,585.00" fill="none" stroke="#000" stroke-width="1.9" stroke-linejoin="round"/>
<line x1="341.20" y1="571.20" x2="341.20" y2="580.80" stroke="#000" stroke-width="1.25" />
<line x1="339.00" y1="571.20" x2="343.40" y2="571.20" stroke="#000" stroke-width="1.25" />
<line x1="339.00" y1="580.80" x2="343.40" y2="580.80" stroke="#000" stroke-width="1.25" />
<line x1="364.20" y1="498.00" x2="364.20" y2="529.50" stroke="#000" stroke-width="1.25" />
<line x1="361.20" y1="498.00" x2="367.20" y2="498.00" stroke="#000" stroke-width="1.25" />
<line x1="361.20" y1="529.50" x2="367.20" y2="529.50" stroke="#000" stroke-width="1.25" />
<line x1="380.00" y1="513.80" x2="380.00" y2="528.80" stroke="#000" stroke-width="1.25" />
<line x1="377.20" y1="513.80" x2="382.80" y2="513.80" stroke="#000" stroke-width="1.25" />
<line x1="377.20" y1="528.80" x2="382.80" y2="528.80" stroke="#000" stroke-width="1.25" />
<circle cx="341.20" cy="576.20" r="1.5" fill="#000" stroke="#000" stroke-width="1.1"/>
<circle cx="364.20" cy="513.80" r="1.2" fill="#000" stroke="#000" stroke-width="1.1"/>
<circle cx="380.00" cy="521.20" r="1.6" fill="#000" stroke="#000" stroke-width="1.1"/>
<circle cx="411.20" cy="569.50" r="1.5" fill="#000" stroke="#000" stroke-width="1.1"/>
<circle cx="473.20" cy="585.00" r="2.0" fill="#000" stroke="#000" stroke-width="1.1"/>
<text transform="translate(271.90,526.70) rotate(-90)" font-size="8.4" text-anchor="middle" fill="#111" stroke="#111" stroke-width="0.3" textLength="29.5" lengthAdjust="spacing">CXCL2</text>
<text transform="translate(283.90,526.50) rotate(-90)" font-size="8.4" text-anchor="middle" fill="#111" stroke="#111" stroke-width="0.3" textLength="58.8" lengthAdjust="spacing">(pg/ml; BALF)</text>
<line x1="456.40" y1="484.40" x2="460.20" y2="484.40" stroke="#000" stroke-width="1.9" />
<line x1="465.60" y1="484.40" x2="468.90" y2="484.40" stroke="#000" stroke-width="1.9" />
<circle cx="462.90" cy="484.40" r="1.8" fill="#fff" stroke="#000" stroke-width="1.1"/>
<line x1="456.40" y1="498.10" x2="468.90" y2="498.10" stroke="#000" stroke-width="2.0" />
<circle cx="463.00" cy="498.10" r="2.0" fill="#000" stroke="#000" stroke-width="1.1"/>
<text x="478.70" y="487.00" font-size="10.6" text-anchor="start" font-weight="normal" font-style="normal" fill="#111" stroke="#111" stroke-width="0.3" >WT</text>
<text x="478.5" y="503.4" font-size="10.6" fill="#111" stroke="#111" stroke-width="0.3">ATF3<tspan font-size="7.8" dy="-3.8">-/-</tspan></text>
</svg>
</body>
</html>
